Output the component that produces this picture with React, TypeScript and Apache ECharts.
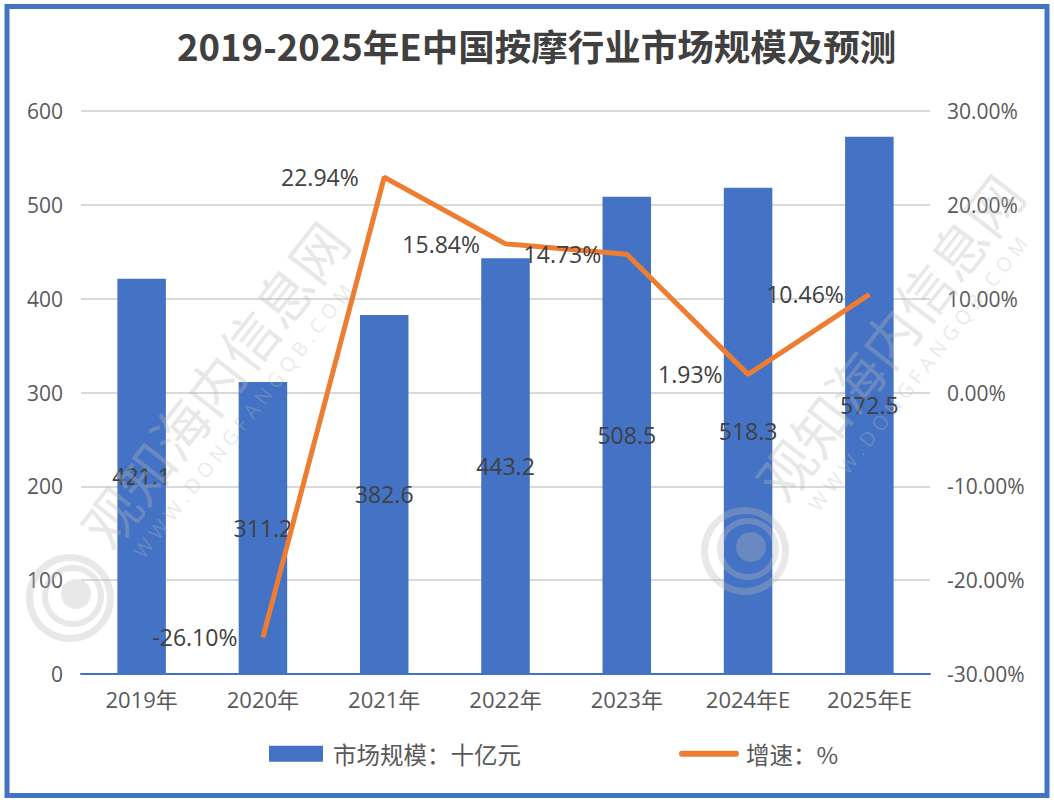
import React, { useEffect, useRef } from "react";
import * as echarts from "echarts";

const categories = ["2019年", "2020年", "2021年", "2022年", "2023年", "2024年E", "2025年E"];
const marketSize = [421.1, 311.2, 382.6, 443.2, 508.5, 518.3, 572.5];
const growth: (number | null)[] = [null, -26.1, 22.94, 15.84, 14.73, 1.93, 10.46];

const TITLE = "2019-2025年E中国按摩行业市场规模及预测";
const BAR_NAME = "市场规模：十亿元";
const LINE_NAME = "增速：%";
const WM_CN = "观知海内信息网";
const WM_URL = "WWW.DONGFANGQB.COM";

const FONT = "'Open Sans', 'Noto Sans CJK SC', sans-serif";
const CJK = "'Noto Sans CJK SC', 'Noto Sans', sans-serif";

function watermark(cx: number, cy: number) {
  const rot = (52 * Math.PI) / 180;
  const fill = "rgba(185,185,185,0.33)";
  return [
    {
      type: "text",
      x: cx,
      y: cy,
      rotation: rot,
      silent: true,
      z: 100,
      style: {
        text: WM_CN,
        fill,
        font: `56px ${CJK}`,
        align: "center",
        verticalAlign: "middle",
      },
    },
    {
      type: "text",
      x: cx + 30,
      y: cy + 38,
      rotation: rot,
      silent: true,
      z: 100,
      style: {
        text: WM_URL.split("").join(" "),
        fill,
        font: `20px ${FONT}`,
        align: "center",
        verticalAlign: "middle",
      },
    },
    {
      type: "ring",
      shape: { cx: cx - 143, cy: cy + 215, r: 44, r0: 37 },
      silent: true,
      z: 100,
      style: { fill },
    },
    {
      type: "ring",
      shape: { cx: cx - 140, cy: cy + 213, r: 31, r0: 25 },
      silent: true,
      z: 100,
      style: { fill },
    },
    {
      type: "circle",
      shape: { cx: cx - 137, cy: cy + 211, r: 15 },
      silent: true,
      z: 100,
      style: { fill },
    },
  ];
}

export default function App() {
  const ref = useRef<HTMLDivElement>(null);

  useEffect(() => {
    if (!ref.current) return;
    const chart = echarts.init(ref.current, null, { renderer: "svg" });
    chart.setOption({
      animation: false,
      backgroundColor: "#ffffff",
      title: {
        text: TITLE,
        left: 172,
        top: 22,
        textStyle: {
          fontFamily: CJK,
          fontWeight: "bold",
          fontSize: 36.5,
          color: "#404040",
        },
      },
      legend: {
        top: 737,
        left: 264,
        itemGap: 158,
        itemWidth: 54,
        itemHeight: 16,
        textStyle: {
          fontFamily: CJK,
          fontSize: 23.5,
          color: "#595959",
          padding: [0, 0, 0, 5],
        },
        data: [
          { name: BAR_NAME, icon: "rect", itemStyle: { color: "#4472C4" } },
          {
            name: LINE_NAME,
            itemStyle: { opacity: 0 },
            lineStyle: { color: "#ED7D31", width: 6, cap: "round" },
          },
        ],
      },
      grid: { left: 81, right: 124, top: 111, bottom: 130, containLabel: false },
      xAxis: {
        type: "category",
        data: categories,
        axisLine: { lineStyle: { color: "#4472C4", width: 2 } },
        axisTick: { show: false },
        axisLabel: { fontFamily: FONT, fontSize: 22, color: "#595959", margin: 14 },
      },
      yAxis: [
        {
          type: "value",
          min: 0,
          max: 600,
          interval: 100,
          axisLine: { show: false },
          axisTick: { show: false },
          splitLine: { lineStyle: { color: "#d9d9d9", width: 2 } },
          axisLabel: { fontFamily: FONT, fontSize: 21, color: "#595959", margin: 18 },
        },
        {
          type: "value",
          min: -30,
          max: 30,
          interval: 10,
          axisLine: { show: false },
          axisTick: { show: false },
          splitLine: { show: false },
          axisLabel: {
            fontFamily: FONT,
            fontSize: 21,
            color: "#595959",
            margin: 17,
            formatter: (v: number) => v.toFixed(2) + "%",
          },
        },
      ],
      series: [
        {
          name: BAR_NAME,
          type: "bar",
          data: marketSize,
          barWidth: "40%",
          itemStyle: { color: "#4472C4" },
          label: {
            show: true,
            position: "inside",
            fontFamily: FONT,
            fontSize: 23,
            color: "#404040",
          },
        },
        {
          name: LINE_NAME,
          type: "line",
          yAxisIndex: 1,
          data: growth,
          symbol: "circle",
          symbolSize: 1,
          itemStyle: { color: "#ED7D31" },
          lineStyle: { color: "#ED7D31", width: 5 },
          label: {
            show: true,
            position: "left",
            distance: 25,
            fontFamily: FONT,
            fontSize: 23,
            color: "#404040",
            formatter: (p: any) => Number(p.value).toFixed(2) + "%",
          },
          z: 5,
        },
      ],
      graphic: [
        ...watermark(213, 383),
        ...watermark(888, 336),
        {
          type: "rect",
          shape: { x: 7, y: 6.5, width: 1040, height: 789 },
          silent: true,
          z: 200,
          style: { fill: "none", stroke: "#4472C4", lineWidth: 5 },
        },
      ],
    });
    return () => chart.dispose();
  }, []);

  return <div ref={ref} style={{ width: 1054, height: 804, position: "absolute", left: 0, top: 0 }} />;
}
